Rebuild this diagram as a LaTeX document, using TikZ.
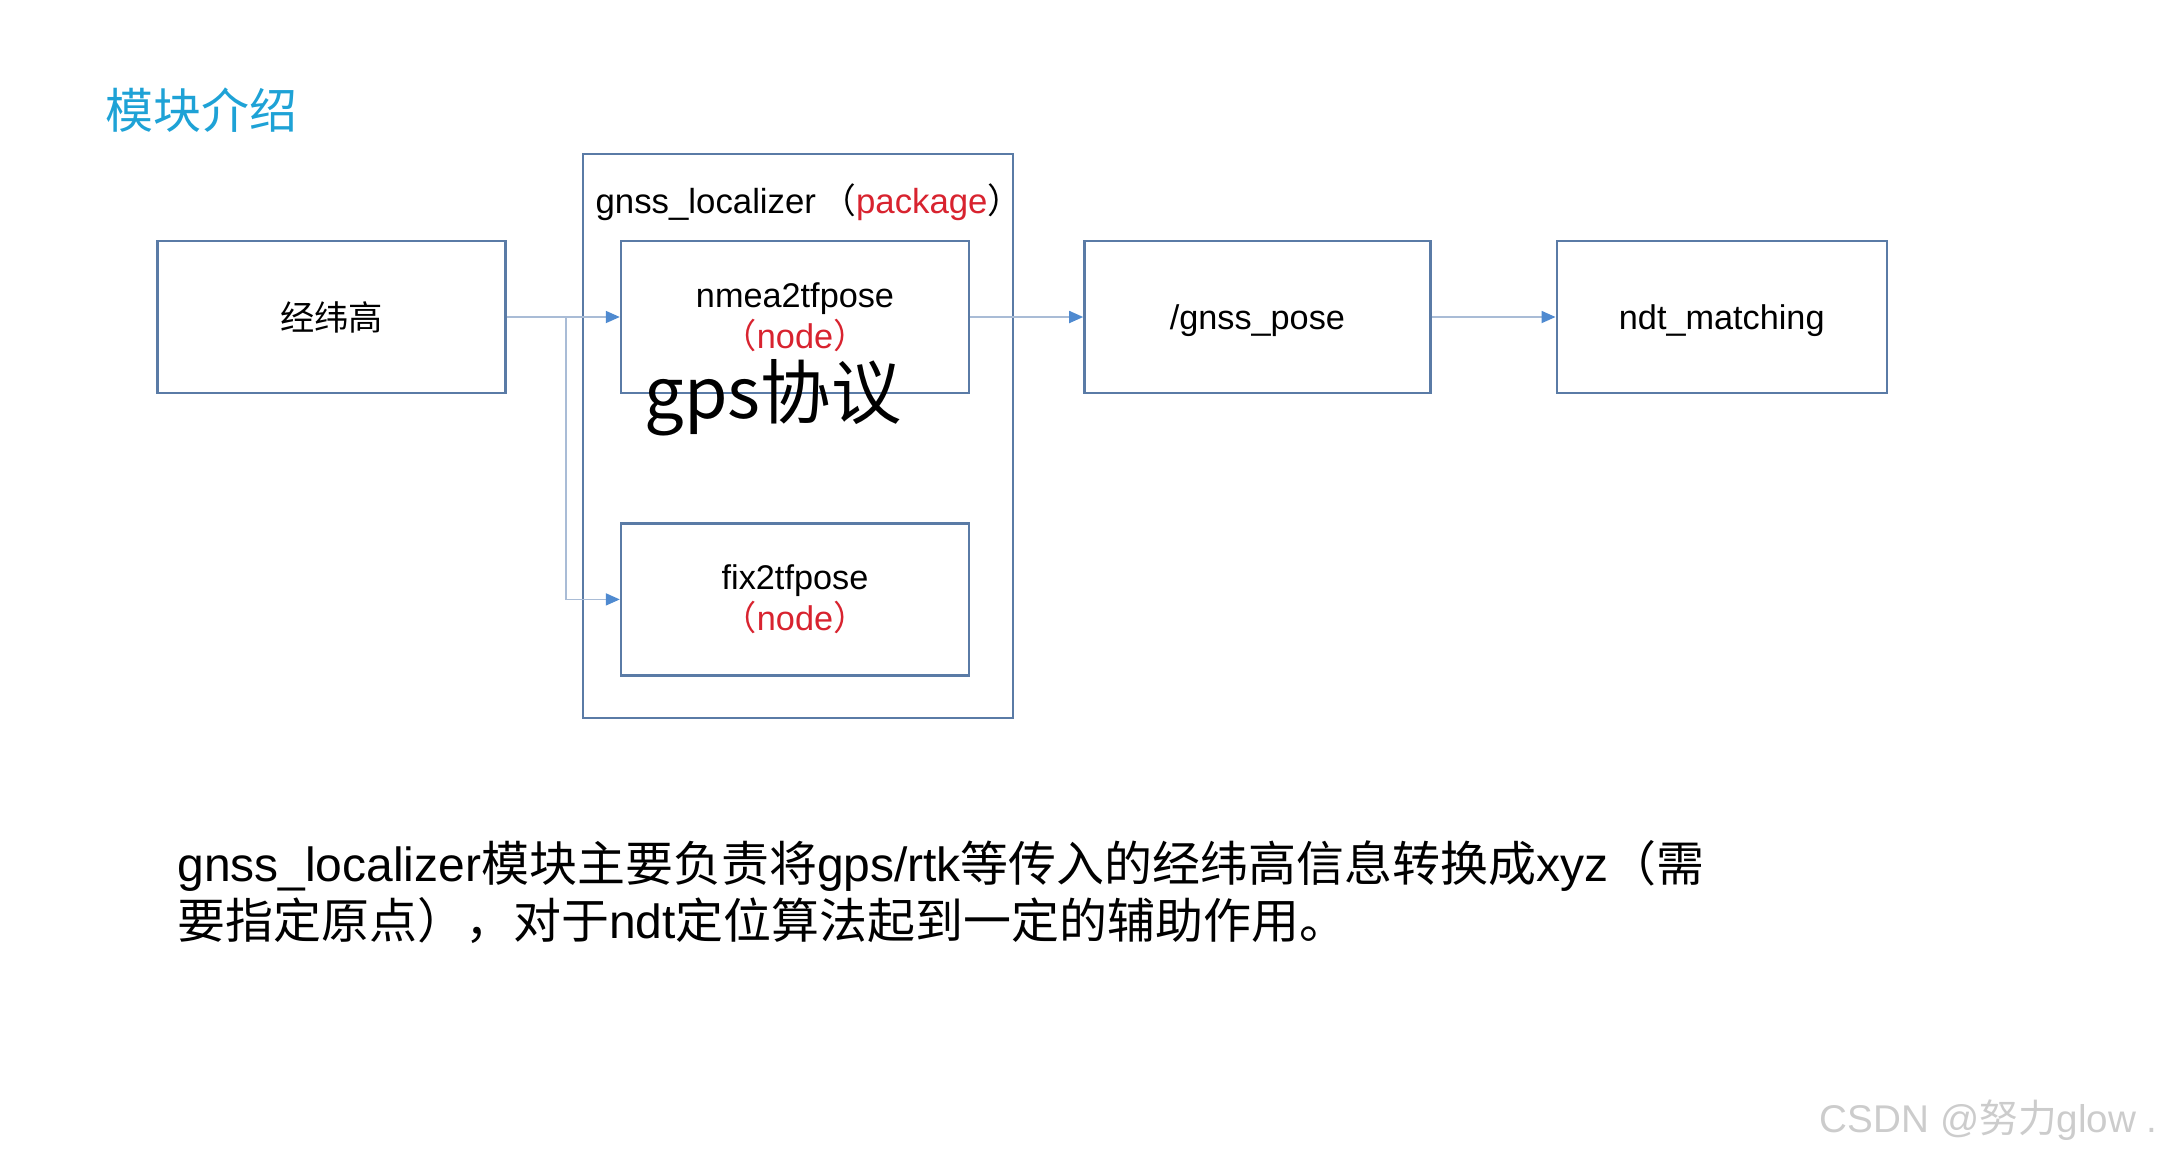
\documentclass[tikz,border=0pt]{standalone}
\usepackage{fontspec}
\setmainfont{Liberation Sans}
\newfontfamily\cjk{Noto Sans CJK SC}
\usepackage{xcolor}
\usetikzlibrary{arrows.meta, positioning}

\definecolor{boxline}{HTML}{5A7BA6}
\definecolor{linkline}{HTML}{A9BCD6}
\definecolor{tipblue}{HTML}{4F8AD0}
\definecolor{tagred}{HTML}{D8232F}
\definecolor{titleblue}{HTML}{1EA2D6}

\newcommand{\nodetag}{{\color{tagred}\cjk （\rmfamily node\cjk ）}}

\begin{document}
\begin{tikzpicture}[
    x=0.02cm, y=-0.02cm,
    node distance=2.56cm and 2.26cm,
    box/.style={rectangle, draw=boxline, line width=1.4pt, minimum width=6.96cm, minimum height=3.04cm, inner sep=0pt, align=center, font=\fontsize{19.5}{23.2}\selectfont, fill=white},
    pkg/.style={rectangle, draw=boxline, line width=1.4pt, minimum width=8.6cm, minimum height=11.28cm, inner sep=0pt},
    arrow/.style={-{Triangle[length=0.28cm, width=0.24cm, color=tipblue]}, line width=1pt, color=linkline}
]
    \useasboundingbox (0,0) rectangle (2169,1157);

    % Title
    \node[anchor=west, inner sep=0pt, text=titleblue, font=\cjk\fontsize{27.3}{30}\selectfont] (title) at (105,110) {模块介绍};

    % Package frame
    \node[pkg] (package) at (798,436) {};
    \node[font=\fontsize{19.8}{22}\selectfont] (pkglabel) at (809,202) {gnss\_localizer\hspace{0.15em}{\cjk （}\textcolor{tagred}{package}{\cjk ）}};

    % Nodes of the package
    \node[box] (nmea) at (795,317) {nmea2tfpose\\\nodetag};
    \node[box, below=of nmea] (fix) {fix2tfpose\\\nodetag};

    % Input and outputs
    \node[box, left=of nmea] (jing) {\cjk 经纬高};
    \node[box, right=of nmea, minimum width=6.92cm, text depth=0pt] (gnss) {/gnss\_pose};
    \node[box, right=2.48cm of gnss, minimum width=6.6cm, text depth=0pt] (ndt) {ndt\_matching};

    % Arrows
    \coordinate (split) at (566,317);
    \draw[arrow] (jing.east) -- (nmea.west);
    \draw[arrow] (split) |- (fix.west);
    \draw[arrow] (nmea.east) -- (gnss.west);
    \draw[arrow] (gnss.east) -- (ndt.west);

    % Handwritten note
    \node[font=\cjk\fontsize{40}{44}\selectfont] (note) at (773,398) {gps协议};

    % Summary
    \node[anchor=west, align=left, inner sep=0pt, font=\fontsize{27.3}{31.9}\selectfont] (summary) at (177,892) {gnss\_localizer{\cjk 模块主要负责将}gps/rtk{\cjk 等传入的经纬高信息转换成}xyz{\cjk （需}\\{\cjk 要指定原点），对于}ndt{\cjk 定位算法起到一定的辅助作用。}};

    % Watermark
    \node[anchor=east, inner sep=0pt, text=black!20, font=\fontsize{22}{26}\selectfont] (mark) at (2158,1120) {CSDN @{\cjk 努力}glow .};
\end{tikzpicture}
\end{document}
